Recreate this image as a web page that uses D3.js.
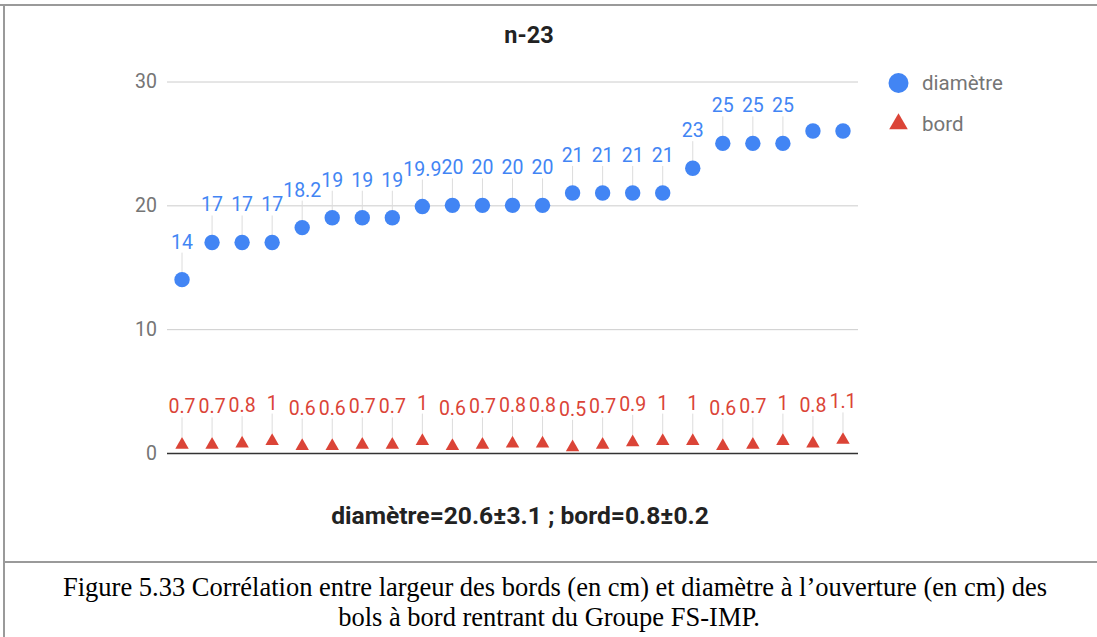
<!DOCTYPE html>
<html>
<head>
<meta charset="utf-8">
<script src="https://cdn.jsdelivr.net/npm/d3@7"></script>
<style>
  html, body { margin: 0; padding: 0; background: #fff; }
  svg { display: block; }
</style>
</head>
<body>
<svg id="chart" width="1097" height="637"></svg>
<script>
// ---- data ----
const categories = ["1","2","3","4","5","6","7","8","9","10","11","12","13","14","15","16","17","18","19","20","21","22","23"];
const diametre = [14, 17, 17, 17, 18.2, 19, 19, 19, 19.9, 20, 20, 20, 20, 21, 21, 21, 21, 23, 25, 25, 25, 26, 26];
const diametreLabels = ["14","17","17","17","18.2","19","19","19","19.9","20","20","20","20","21","21","21","21","23","25","25","25", null, null];
const bord = [0.7, 0.7, 0.8, 1, 0.6, 0.6, 0.7, 0.7, 1, 0.6, 0.7, 0.8, 0.8, 0.5, 0.7, 0.9, 1, 1, 0.6, 0.7, 1, 0.8, 1.1];
const bordLabels = ["0.7","0.7","0.8","1","0.6","0.6","0.7","0.7","1","0.6","0.7","0.8","0.8","0.5","0.7","0.9","1","1","0.6","0.7","1","0.8","1.1"];
const yTicks = [0, 10, 20, 30];
const seriesNames = ["diamètre", "bord"];
const chartTitle = "n-23";
const axisTitle = "diamètre=20.6±3.1 ; bord=0.8±0.2";
const captionLines = ["Figure 5.33 Corrélation entre largeur des bords (en cm) et diamètre à l’ouverture (en cm) des",
                      "bols à bord rentrant du Groupe FS-IMP."];

// ---- style ----
const BLUE = "#4285f4", RED = "#db4437";
const svg = d3.select("#chart");
const plotLeft = 167, plotRight = 858, plotTop = 81.5, plotBottom = 453;

const x = d3.scalePoint().domain(categories).range([plotLeft, plotRight]).padding(0.5);
const y = d3.scaleLinear().domain([0, 30]).range([plotBottom, plotTop]);

// frame lines
svg.append("line").attr("x1", 0).attr("x2", 1097).attr("y1", 5).attr("y2", 5)
  .attr("stroke", "#9a9a9a").attr("stroke-width", 2);
svg.append("line").attr("x1", 4).attr("x2", 4).attr("y1", 4).attr("y2", 637)
  .attr("stroke", "#9a9a9a").attr("stroke-width", 2);
svg.append("line").attr("x1", 4).attr("x2", 1097).attr("y1", 562).attr("y2", 562)
  .attr("stroke", "#9a9a9a").attr("stroke-width", 2);

// axis + grid
const yAxis = d3.axisLeft(y).tickValues(yTicks).tickSize(-(plotRight - plotLeft)).tickPadding(10).tickFormat(d3.format("d"));
const gAxis = svg.append("g").attr("transform", `translate(${plotLeft},0)`).call(yAxis);
gAxis.select(".domain").remove();
gAxis.selectAll(".tick line").attr("stroke", d => d === 0 ? "#333" : "#cccccc").attr("stroke-width", d => d === 0 ? 1.5 : 1);
gAxis.selectAll(".tick text").attr("fill", "#757575").style("font-family", "Roboto, Arial, sans-serif").style("font-size", "19.5px");

// title
svg.append("text").attr("x", 529).attr("y", 43).attr("text-anchor", "middle")
  .style("font-family", "Roboto, Arial, sans-serif").style("font-weight", "bold").style("font-size", "23.5px")
  .attr("fill", "#222").text(chartTitle);

// axis title
svg.append("text").attr("x", 520).attr("y", 524).attr("text-anchor", "middle")
  .style("font-family", "Roboto, Arial, sans-serif").style("font-weight", "bold").style("font-size", "24.6px")
  .attr("fill", "#222").text(axisTitle);

// annotation stems
function stems(values, labels) {
  svg.append("g").selectAll("line").data(values.map((v, i) => ({v, i, l: labels[i]})).filter(d => d.l))
    .join("line")
    .attr("x1", d => x(categories[d.i])).attr("x2", d => x(categories[d.i]))
    .attr("y1", d => y(d.v) - 27).attr("y2", d => y(d.v) - 7)
    .attr("stroke", "#dcdcdc").attr("stroke-width", 1);
}
stems(diametre, diametreLabels);
stems(bord, bordLabels);

// diamètre points
svg.append("g").selectAll("circle").data(diametre).join("circle")
  .attr("cx", (d, i) => x(categories[i])).attr("cy", d => y(d)).attr("r", 7.7).attr("fill", BLUE);

// bord triangles
const tri = d3.symbol().type(d3.symbolTriangle).size(78);
svg.append("g").selectAll("path").data(bord).join("path")
  .attr("transform", (d, i) => `translate(${x(categories[i])},${y(d) + 0.5})`)
  .attr("d", tri).attr("fill", RED);

// labels
function labelsFor(values, labels, color) {
  svg.append("g").selectAll("text").data(values.map((v, i) => ({v, i, l: labels[i]})).filter(d => d.l))
    .join("text")
    .attr("x", d => x(categories[d.i])).attr("y", d => y(d.v) - 31)
    .attr("text-anchor", "middle").attr("fill", color)
    .style("font-family", "Roboto, Arial, sans-serif").style("font-size", "19.5px")
    .text(d => d.l);
}
labelsFor(diametre, diametreLabels, BLUE);
labelsFor(bord, bordLabels, RED);

// legend
const lg = svg.append("g");
lg.append("circle").attr("cx", 898.5).attr("cy", 83).attr("r", 10).attr("fill", BLUE);
lg.append("path").attr("transform", "translate(898.5,124)").attr("d", d3.symbol().type(d3.symbolTriangle).size(150)).attr("fill", RED);
lg.selectAll("text").data(seriesNames).join("text")
  .attr("x", 922).attr("y", (d, i) => 90 + i * 41)
  .attr("fill", "#757575").style("font-family", "Roboto, Arial, sans-serif").style("font-size", "20.5px")
  .text(d => d);

// caption
svg.append("g").selectAll("text").data(captionLines).join("text")
  .attr("x", (d, i) => i === 0 ? 555 : 549).attr("y", (d, i) => 596 + i * 30)
  .attr("text-anchor", "middle").attr("fill", "#000")
  .style("font-family", "'Liberation Serif', 'Times New Roman', serif").style("font-size", "26.5px")
  .text(d => d);
</script>
</body>
</html>
